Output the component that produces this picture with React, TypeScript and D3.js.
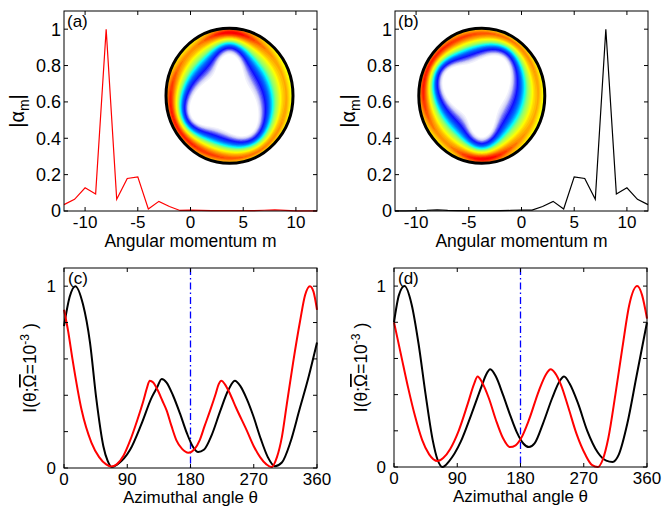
import React from 'react';
import * as d3 from 'd3';

// ---------- data ----------
const mValues = [-12, -11, -10, -9, -8, -7, -6, -5, -4, -3, -2, -1, 0, 1, 2, 3, 4, 5, 6, 7, 8, 9, 10, 11, 12];
const alphaA = [0.035, 0.064, 0.128, 0.093, 1.0, 0.064, 0.179, 0.188, 0.011, 0.053, 0.025, 0.003, 0.005, 0.003, 0.002, 0.002, 0.002, 0.002, 0.002, 0.004, 0.006, 0.003, 0.001, 0.001, 0.001];
const alphaB = [0.001, 0.001, 0.002, 0.003, 0.006, 0.003, 0.002, 0.002, 0.002, 0.002, 0.002, 0.003, 0.005, 0.005, 0.025, 0.053, 0.011, 0.188, 0.179, 0.064, 1.0, 0.093, 0.128, 0.064, 0.035];

const mTicks = [-10, -5, 0, 5, 10];
const alphaTicks = [0, 0.2, 0.4, 0.6, 0.8, 1];
const alphaTickLabels = ['0', '0.2', '0.4', '0.6', '0.8', '1'];

const thetaTicks = [0, 90, 180, 270, 360];
const intensityTicks = [0, 0.2, 0.4, 0.6, 0.8, 1];
const intensityTickLabels = ['0', '', '', '', '', '1'];

// panel (c)
const cBlackTheta = [0, 8, 16, 27, 37, 46, 56, 62, 68, 76, 94, 110, 125, 132, 139, 146, 155, 165, 175, 183, 191, 199, 210, 222, 234, 243, 251, 260, 269, 280, 290, 300, 310, 322, 335, 348, 360];
const cBlackVal = [0.78, 0.94, 1.0, 0.9, 0.69, 0.38, 0.12, 0.04, 0.005, 0.02, 0.1, 0.24, 0.39, 0.44, 0.49, 0.47, 0.4, 0.3, 0.19, 0.12, 0.088, 0.1, 0.18, 0.31, 0.43, 0.48, 0.45, 0.38, 0.29, 0.16, 0.06, 0.01, 0.03, 0.14, 0.32, 0.5, 0.69];
const cRedTheta = [0, 6, 12, 25, 39, 50, 60, 67, 75, 85, 94, 104, 113, 118, 122, 127, 133, 140, 146, 153, 160, 168, 177, 186, 193, 200, 208, 216, 220, 224, 229, 236, 245, 260, 270, 279, 288, 295, 303, 310, 317, 326, 336, 343, 350, 355, 360];
const cRedVal = [0.87, 0.75, 0.6, 0.32, 0.14, 0.06, 0.02, 0.008, 0.02, 0.07, 0.15, 0.26, 0.37, 0.44, 0.48, 0.47, 0.43, 0.37, 0.317, 0.23, 0.152, 0.105, 0.084, 0.105, 0.152, 0.23, 0.317, 0.41, 0.46, 0.48, 0.46, 0.41, 0.33, 0.207, 0.12, 0.06, 0.02, 0.005, 0.06, 0.17, 0.35, 0.58, 0.81, 0.95, 1.0, 0.97, 0.87];

// panel (d)
const dBlackTheta = [0, 7, 15, 25, 35, 45, 55, 62, 69, 78, 95, 110, 125, 131, 137, 145, 155, 165, 175, 184, 192, 200, 212, 225, 235, 242, 250, 262, 275, 290, 302, 311, 320, 332, 345, 360];
const dBlackVal = [0.8, 0.95, 1.0, 0.9, 0.68, 0.4, 0.15, 0.04, 0.0, 0.03, 0.14, 0.29, 0.45, 0.51, 0.54, 0.5, 0.4, 0.29, 0.19, 0.13, 0.11, 0.13, 0.24, 0.38, 0.47, 0.5, 0.46, 0.35, 0.2, 0.08, 0.035, 0.028, 0.07, 0.24, 0.5, 0.8];
const dRedTheta = [0, 10, 20, 30, 40, 50, 62, 70, 80, 92, 105, 114, 119, 125, 135, 145, 155, 165, 173, 181, 192, 206, 216, 223, 229, 238, 248, 260, 272, 282, 290, 297, 305, 315, 325, 335, 346, 353, 360];
const dRedVal = [0.8, 0.62, 0.44, 0.28, 0.15, 0.07, 0.033, 0.05, 0.1, 0.2, 0.35, 0.46, 0.5, 0.47, 0.38, 0.26, 0.16, 0.11, 0.12, 0.16, 0.26, 0.42, 0.51, 0.54, 0.52, 0.45, 0.33, 0.18, 0.07, 0.01, 0.0, 0.04, 0.16, 0.4, 0.66, 0.9, 1.0, 0.95, 0.82];

// inset field: hole radius and ring amplitude at angles 0,30,...,330 (screen angle, 0 = right, 90 = down)
const insetHoleRadius = [0.42, 0.55, 0.74, 0.56, 0.52, 0.76, 0.6, 0.44, 0.42, 0.76, 0.42, 0.36];
const insetAmplitude = [0.9, 0.94, 0.98, 1.02, 1.06, 1.1, 1.1, 0.96, 0.92, 1.22, 0.98, 0.9];
const profileS = [-0.4, -0.05, 0.08, 0.25, 0.38, 0.48, 0.58, 0.7, 0.82, 1.0];
const profileV = [0, 0.12, 0.22, 0.32, 0.42, 0.52, 0.6, 0.7, 0.76, 0.64];
const cmapDomain = [0, 0.1, 0.18, 0.28, 0.36, 0.44, 0.52, 0.62, 0.72, 0.82, 0.97];
const cmapColors = ['#ffffff', '#ffffff', '#c8c8f4', '#1010ff', '#0070ff', '#00ffff', '#90ff70', '#ffff00', '#ff9000', '#ff0000', '#8a0000'];
const contourStep = 0.02;
const contourLevels = d3.range(0.05, 1.3, contourStep);

const FONT = '"Liberation Sans", Arial, Helvetica, sans-serif';

// ---------- components ----------
type Box = { x0: number; x1: number; y0: number; y1: number };

function Frame({ box, xs, ys, xTicks, yTicks }: any) {
  const tl = 4;
  return (
    <g stroke="#000" strokeWidth={1} fill="none">
      <rect x={box.x0} y={box.y0} width={box.x1 - box.x0} height={box.y1 - box.y0} />
      {xTicks.map((t: number, i: number) => (
        <g key={'x' + i}>
          <line x1={xs(t)} x2={xs(t)} y1={box.y1} y2={box.y1 - tl} />
          <line x1={xs(t)} x2={xs(t)} y1={box.y0} y2={box.y0 + tl} />
        </g>
      ))}
      {yTicks.map((t: number, i: number) => (
        <g key={'y' + i}>
          <line x1={box.x0} x2={box.x0 + tl} y1={ys(t)} y2={ys(t)} />
          <line x1={box.x1} x2={box.x1 - tl} y1={ys(t)} y2={ys(t)} />
        </g>
      ))}
    </g>
  );
}

function Inset({ cx, cy, rx, ry, flip, id }: any) {
  const nx = 120, ny = 128;
  const holeF = d3.interpolateBasisClosed(insetHoleRadius);
  const ampF = d3.interpolateBasisClosed(insetAmplitude);
  const prof = d3.scaleLinear().domain(profileS).range(profileV).clamp(true);
  const values: number[] = new Array(nx * ny);
  for (let j = 0; j < ny; j++) {
    for (let i = 0; i < nx; i++) {
      const u = ((i + 0.5) / nx) * 2 - 1;
      let v = ((j + 0.5) / ny) * 2 - 1;
      if (flip) v = -v;
      const rho = Math.hypot(u, v);
      let ang = Math.atan2(v, u) / (2 * Math.PI);
      if (ang < 0) ang += 1;
      const h = holeF(ang);
      const a = ampF(ang);
      const s = (rho - h) / (1 - h);
      const w = Math.max(0, Math.min(1, s));
      values[j * nx + i] = prof(s) * (1 + (a - 1) * w);
    }
  }
  const contours = d3.contours().size([nx, ny]).thresholds(contourLevels)(values);
  const cmap = d3.scaleLinear<string>().domain(cmapDomain).range(cmapColors).clamp(true);
  const path = d3.geoPath();
  return (
    <g>
      <clipPath id={id}>
        <ellipse cx={cx} cy={cy} rx={rx} ry={ry} />
      </clipPath>
      <g clipPath={`url(#${id})`}>
        <ellipse cx={cx} cy={cy} rx={rx} ry={ry} fill="#fff" />
        <g transform={`translate(${cx - rx},${cy - ry}) scale(${(2 * rx) / nx},${(2 * ry) / ny})`}>
          {contours.map((c, k) => (
            <path key={k} d={path(c as any) || ''} fill={cmap(c.value + contourStep / 2)} stroke="none" />
          ))}
        </g>
      </g>
      <ellipse cx={cx} cy={cy} rx={rx} ry={ry} fill="none" stroke="#000" strokeWidth={3} />
    </g>
  );
}

function TopPanel({ box, values, color, label, inset, yLabelX }: any) {
  const xs = d3.scaleLinear().domain([-12, 12]).range([box.x0, box.x1]);
  const ys = d3.scaleLinear().domain([0, 1.1]).range([box.y1, box.y0]);
  const line = d3
    .line<number>()
    .x((_, i) => xs(mValues[i]))
    .y((d) => ys(d));
  const midY = (box.y0 + box.y1) / 2;
  return (
    <g>
      <path d={line(values) || ''} fill="none" stroke={color} strokeWidth={1.2} />
      <Inset {...inset} />
      <Frame box={box} xs={xs} ys={ys} xTicks={mTicks} yTicks={alphaTicks} />
      <g fontFamily={FONT} fontSize={18} fill="#000">
        {alphaTicks.map((t, i) => (
          <text key={i} x={box.x0 - 3} y={ys(t)} dy="0.36em" textAnchor="end">
            {alphaTickLabels[i]}
          </text>
        ))}
        {mTicks.map((t, i) => (
          <text key={i} x={xs(t)} y={box.y1 + 16.5} textAnchor="middle" fontSize={17}>
            {String(t)}
          </text>
        ))}
        <text x={(box.x0 + box.x1) / 2} y={box.y1 + 36} textAnchor="middle" fontSize={17.5}>
          Angular momentum m
        </text>
        <text x={box.x0 + 3} y={box.y0 + 16} fontSize={17}>
          {label}
        </text>
        <text transform={`translate(${yLabelX},${midY}) rotate(-90)`} textAnchor="middle" fontSize={20}>
          |α<tspan fontSize={14} dy={5}>m</tspan>
          <tspan dy={-5}>|</tspan>
        </text>
      </g>
    </g>
  );
}

function BottomPanel({ box, blackT, blackV, redT, redV, label, yLabelX }: any) {
  const xs = d3.scaleLinear().domain([0, 360]).range([box.x0, box.x1]);
  const ys = d3.scaleLinear().domain([0, 1.1]).range([box.y1, box.y0]);
  const mk = (T: number[]) =>
    d3
      .line<number>()
      .x((_, i) => xs(T[i]))
      .y((d) => ys(d))
      .curve(d3.curveMonotoneX);
  const midY = (box.y0 + box.y1) / 2;
  return (
    <g>
      <line x1={xs(180)} x2={xs(180)} y1={box.y0} y2={box.y1} stroke="#0000ff" strokeWidth={1.3} strokeDasharray="7,3,1.5,3" />
      <path d={mk(blackT)(blackV) || ''} fill="none" stroke="#000" strokeWidth={2} />
      <path d={mk(redT)(redV) || ''} fill="none" stroke="#ff0000" strokeWidth={2} />
      <Frame box={box} xs={xs} ys={ys} xTicks={thetaTicks} yTicks={intensityTicks} />
      <g fontFamily={FONT} fontSize={17} fill="#000">
        {intensityTicks.map((t, i) =>
          intensityTickLabels[i] ? (
            <text key={i} x={box.x0 - 8} y={ys(t)} dy="0.36em" textAnchor="end">
              {intensityTickLabels[i]}
            </text>
          ) : null
        )}
        {thetaTicks.map((t, i) => (
          <text key={i} x={xs(t)} y={box.y1 + 17} textAnchor="middle">
            {String(t)}
          </text>
        ))}
        <text x={(box.x0 + box.x1) / 2} y={box.y1 + 35} textAnchor="middle">
          Azimuthal angle θ
        </text>
        <text x={box.x0 + 4} y={box.y0 + 16} fontSize={17}>
          {label}
        </text>
        <text transform={`translate(${yLabelX},${midY}) rotate(-90)`} textAnchor="middle" fontSize={17.5}>
          I(θ;<tspan style={{ textDecoration: 'overline' }}>Ω</tspan>=10
          <tspan fontSize={12} dy={-7}>-3</tspan>
          <tspan dy={7}> )</tspan>
        </text>
      </g>
    </g>
  );
}

export default function App() {
  const boxA: Box = { x0: 64, x1: 317, y0: 11, y1: 211 };
  const boxB: Box = { x0: 395, x1: 648, y0: 11, y1: 211 };
  const boxC: Box = { x0: 64, x1: 317, y0: 268, y1: 468 };
  const boxD: Box = { x0: 394, x1: 647, y0: 268, y1: 467 };
  return (
    <svg
      width={662}
      height={508}
      style={{ position: 'absolute', left: 0, top: 0, background: '#fff' }}
    >
      <rect x={0} y={0} width={662} height={508} fill="#fff" />
      <TopPanel
        box={boxA}
        values={alphaA}
        color="#ff0000"
        label="(a)"
        yLabelX={24}
        inset={{ cx: 229.5, cy: 95.8, rx: 63.5, ry: 67.5, flip: false, id: 'clipA' }}
      />
      <TopPanel
        box={boxB}
        values={alphaB}
        color="#000"
        label="(b)"
        yLabelX={355}
        inset={{ cx: 481.8, cy: 95.8, rx: 63, ry: 67.5, flip: true, id: 'clipB' }}
      />
      <BottomPanel box={boxC} blackT={cBlackTheta} blackV={cBlackVal} redT={cRedTheta} redV={cRedVal} label="(c)" yLabelX={36} />
      <BottomPanel box={boxD} blackT={dBlackTheta} blackV={dBlackVal} redT={dRedTheta} redV={dRedVal} label="(d)" yLabelX={367} />
    </svg>
  );
}
